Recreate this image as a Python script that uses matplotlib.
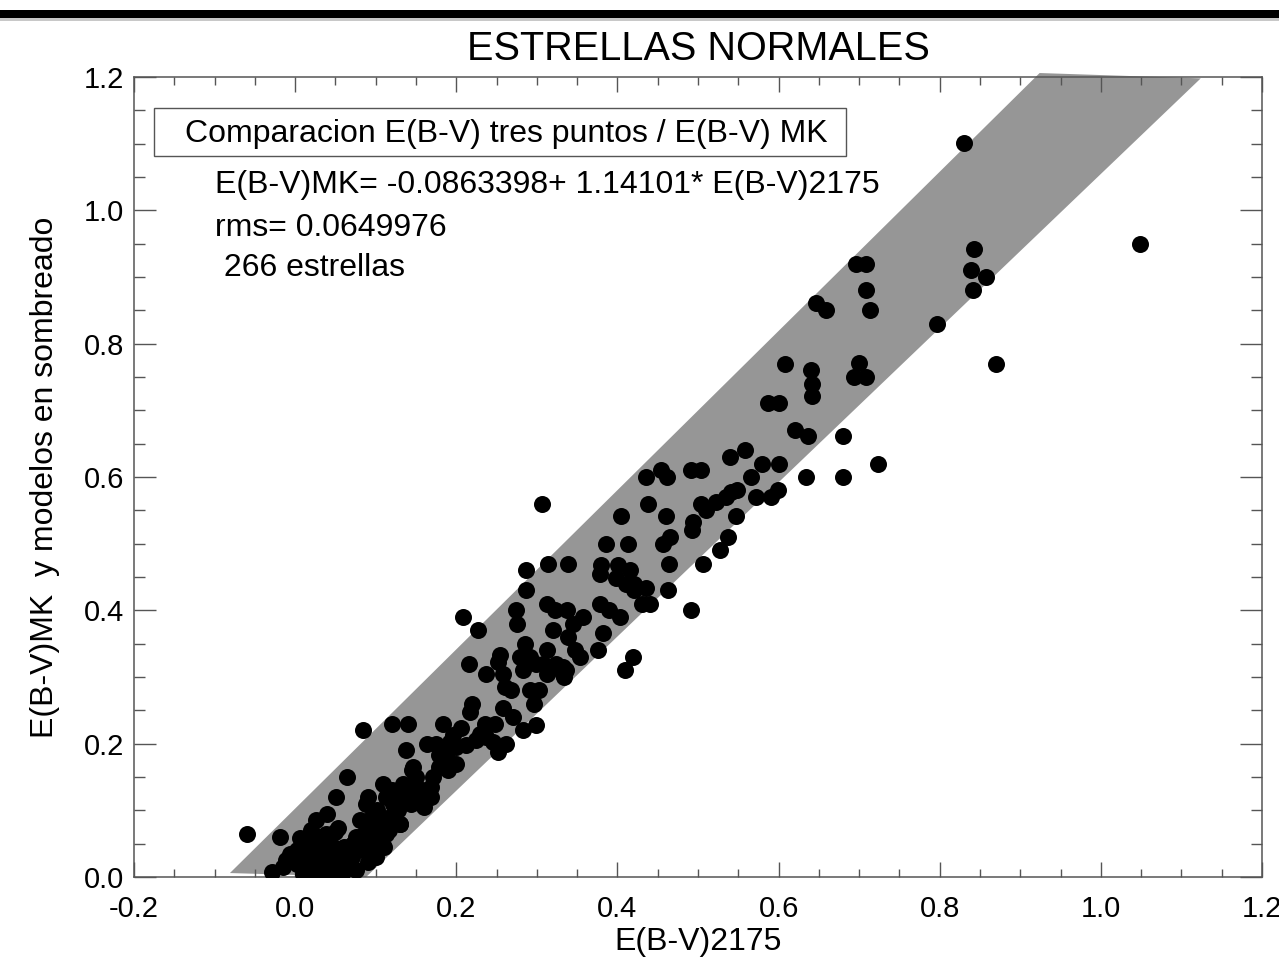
import matplotlib
matplotlib.use("Agg")
import matplotlib.pyplot as plt
from matplotlib.patches import Rectangle

plt.rcParams['font.family'] = ['Liberation Sans', 'DejaVu Sans']

# E(B-V)2175 (x) vs E(B-V)MK (y)
ebv_2175 = [
    0.830, 1.048, 0.843, 0.839, 0.858, 0.841, 0.797, 0.870, 0.696, 0.708,
    0.709, 0.713, 0.647, 0.659, 0.608, 0.640, 0.642, 0.642, 0.700, 0.693,
    0.709, 0.600, 0.587, 0.620, 0.637, 0.680, 0.601, 0.634, 0.680, 0.723,
    0.599, 0.558, 0.540, 0.579, 0.566, 0.436, 0.454, 0.461, 0.491, 0.504,
    0.549, 0.541, 0.572, 0.591, 0.535, 0.522, 0.504, 0.510, 0.438, 0.405,
    0.460, 0.547, 0.494, 0.493, 0.386, 0.413, 0.456, 0.465, 0.537, 0.527,
    0.339, 0.380, 0.401, 0.464, 0.506, 0.306, 0.314, 0.286, 0.378, 0.398,
    0.415, 0.421, 0.286, 0.312, 0.322, 0.337, 0.378, 0.390, 0.403, 0.357,
    0.345, 0.274, 0.275, 0.208, 0.227, 0.320, 0.339, 0.382, 0.376, 0.419,
    0.409, 0.285, 0.279, 0.312, 0.347, 0.254, 0.252, 0.291, 0.299, 0.324,
    0.336, 0.216, 0.237, 0.258, 0.312, 0.332, 0.283, 0.411, 0.421, 0.436,
    0.430, 0.440, 0.463, 0.491, 0.353, 0.332, 0.334, 0.291, 0.303, 0.297,
    0.308, 0.260, 0.268, 0.220, 0.217, 0.258, 0.270, 0.299, 0.283, 0.084,
    0.120, 0.140, 0.184, 0.206, 0.196, 0.192, 0.235, 0.229, 0.163, 0.175,
    0.188, 0.200, 0.212, 0.225, 0.237, 0.246, 0.252, 0.262, 0.138, 0.146,
    0.179, 0.188, 0.200, 0.064, 0.051, 0.145, 0.109, 0.120, 0.134, 0.146,
    0.171, 0.090, 0.088, 0.101, 0.122, 0.128, 0.144, 0.169, 0.169, 0.122,
    0.130, 0.113, 0.026, 0.039, -0.060, -0.019, 0.006, 0.018, 0.031, 0.053,
    0.043, -0.007, 0.002, -0.011, -0.015, -0.029, 0.014, 0.026, 0.035, 0.047,
    0.060, 0.072, 0.080, 0.080, 0.088, 0.097, 0.105, 0.117, 0.130, 0.002,
    0.018, 0.031, 0.043, 0.055, 0.064, 0.060, 0.068, 0.080, 0.093, 0.101,
    0.113, 0.010, 0.025, 0.040, 0.113, 0.126, 0.150, 0.158, 0.155, 0.140,
    0.012, 0.022, 0.035, 0.048, 0.058, 0.070, 0.075, 0.085, 0.095, 0.105,
    0.020, 0.030, 0.045, 0.055, 0.065, 0.075, 0.090, 0.100, 0.110, 0.008,
    0.015, 0.028, 0.038, 0.050, 0.062, 0.072, 0.085, 0.092, 0.118, 0.125,
    0.135, 0.150, 0.160, 0.178, 0.190, 0.248,
]
ebv_mk = [
    1.101, 0.950, 0.942, 0.910, 0.900, 0.880, 0.830, 0.770, 0.920, 0.920,
    0.880, 0.850, 0.861, 0.850, 0.770, 0.761, 0.740, 0.721, 0.771, 0.750,
    0.750, 0.711, 0.711, 0.670, 0.661, 0.661, 0.620, 0.600, 0.600, 0.620,
    0.580, 0.641, 0.630, 0.620, 0.600, 0.600, 0.611, 0.600, 0.610, 0.610,
    0.580, 0.578, 0.570, 0.570, 0.570, 0.563, 0.560, 0.550, 0.560, 0.541,
    0.541, 0.541, 0.533, 0.520, 0.500, 0.500, 0.500, 0.510, 0.510, 0.490,
    0.470, 0.468, 0.468, 0.470, 0.470, 0.560, 0.470, 0.460, 0.455, 0.448,
    0.460, 0.440, 0.430, 0.410, 0.400, 0.400, 0.410, 0.400, 0.390, 0.390,
    0.380, 0.400, 0.380, 0.390, 0.370, 0.370, 0.360, 0.366, 0.340, 0.330,
    0.310, 0.350, 0.330, 0.340, 0.340, 0.333, 0.323, 0.330, 0.320, 0.320,
    0.310, 0.320, 0.305, 0.305, 0.305, 0.305, 0.310, 0.440, 0.430, 0.433,
    0.410, 0.410, 0.430, 0.400, 0.330, 0.315, 0.300, 0.280, 0.280, 0.260,
    0.320, 0.285, 0.280, 0.260, 0.248, 0.253, 0.240, 0.228, 0.220, 0.220,
    0.230, 0.230, 0.230, 0.223, 0.213, 0.203, 0.230, 0.215, 0.200, 0.200,
    0.195, 0.195, 0.198, 0.205, 0.210, 0.203, 0.188, 0.200, 0.190, 0.165,
    0.183, 0.178, 0.170, 0.150, 0.120, 0.160, 0.140, 0.130, 0.140, 0.140,
    0.150, 0.120, 0.110, 0.100, 0.110, 0.100, 0.110, 0.120, 0.135, 0.090,
    0.080, 0.070, 0.085, 0.095, 0.064, 0.060, 0.058, 0.050, 0.055, 0.073,
    0.060, 0.035, 0.040, 0.025, 0.015, 0.008, 0.030, 0.030, 0.040, 0.045,
    0.045, 0.050, 0.055, 0.085, 0.080, 0.095, 0.075, 0.070, 0.080, 0.020,
    0.015, 0.020, 0.015, 0.015, 0.020, 0.010, 0.035, 0.045, 0.055, 0.060,
    0.065, 0.005, 0.005, 0.005, 0.120, 0.115, 0.150, 0.130, 0.120, 0.125,
    0.045, 0.010, 0.030, 0.025, 0.005, 0.030, 0.060, 0.065, 0.040, 0.085,
    0.070, 0.060, 0.010, 0.035, 0.025, 0.010, 0.022, 0.030, 0.045, 0.020,
    0.050, 0.045, 0.065, 0.068, 0.040, 0.050, 0.040, 0.070, 0.090, 0.105,
    0.120, 0.125, 0.105, 0.165, 0.160, 0.230,
]

# model band (shaded region)
band_x = [-0.081, 0.088, 1.124, 0.924]
band_y = [0.006, 0.0, 1.198, 1.206]

xticks = [-0.2, 0.0, 0.2, 0.4, 0.6, 0.8, 1.0, 1.2]
yticks = [0.0, 0.2, 0.4, 0.6, 0.8, 1.0, 1.2]

fig = plt.figure(figsize=(12.79, 9.64), dpi=100)
ax = fig.add_axes([0.1048, 0.0902, 0.8819, 0.8299])

ax.fill(band_x, band_y, color='#969696', lw=0, zorder=1, clip_on=False)
ax.scatter(ebv_2175, ebv_mk, s=150, c='black', lw=0, zorder=3)

ax.set_xlim(-0.2, 1.2)
ax.set_ylim(0.0, 1.2)
ax.set_xticks(xticks)
ax.set_yticks(yticks)
ax.set_xticklabels(['%.1f' % t for t in xticks])
ax.set_yticklabels(['%.1f' % t for t in yticks])
ax.minorticks_on()
ax.xaxis.set_minor_locator(matplotlib.ticker.MultipleLocator(0.05))
ax.yaxis.set_minor_locator(matplotlib.ticker.MultipleLocator(0.05))
ax.tick_params(which='both', direction='in', top=True, right=True,
               color='#555555', width=1.0, labelsize=21)
ax.tick_params(axis='x', which='major', length=11, pad=13)
ax.tick_params(axis='x', which='minor', length=5.5)
ax.tick_params(axis='y', which='major', length=16, pad=7)
ax.tick_params(axis='y', which='minor', length=8)
for sp in ax.spines.values():
    sp.set_color('#555555')
    sp.set_linewidth(1.1)

# legend box and fit text
ax.add_patch(Rectangle((0.0177, 0.901), 0.6133, 0.06, transform=ax.transAxes,
                       fill=False, ec='#555555', lw=1.0, zorder=4))
ax.text(0.045, 0.919, 'Comparacion E(B-V) tres puntos / E(B-V) MK',
        transform=ax.transAxes, fontsize=23, va='baseline')
ax.text(0.0718, 0.855, 'E(B-V)MK= -0.0863398+ 1.14101* E(B-V)2175',
        transform=ax.transAxes, fontsize=23, va='baseline')
ax.text(0.0718, 0.801, 'rms= 0.0649976', transform=ax.transAxes,
        fontsize=23, va='baseline')
ax.text(0.0718, 0.751, ' 266 estrellas', transform=ax.transAxes,
        fontsize=23, va='baseline')

fig.text(0.5457, 0.9378, 'ESTRELLAS NORMALES', fontsize=28.5, ha='center',
         va='baseline')
fig.text(0.5457, 0.0145, 'E(B-V)2175', fontsize=23, ha='center', va='baseline')
fig.text(0.0352, 0.505, 'E(B-V)MK  y modelos en sombreado', fontsize=23,
         rotation=90, ha='center', va='center')

# thick rule at the top of the page
fig.add_artist(Rectangle((0, 1 - 21 / 964), 1, 4 / 964, transform=fig.transFigure,
                         color='#c8c8c8', lw=0))
fig.add_artist(Rectangle((0, 1 - 17.5 / 964), 1, 7.5 / 964, transform=fig.transFigure,
                         color='black', lw=0))

plt.savefig('out.png', dpi=100)
plt.close()
